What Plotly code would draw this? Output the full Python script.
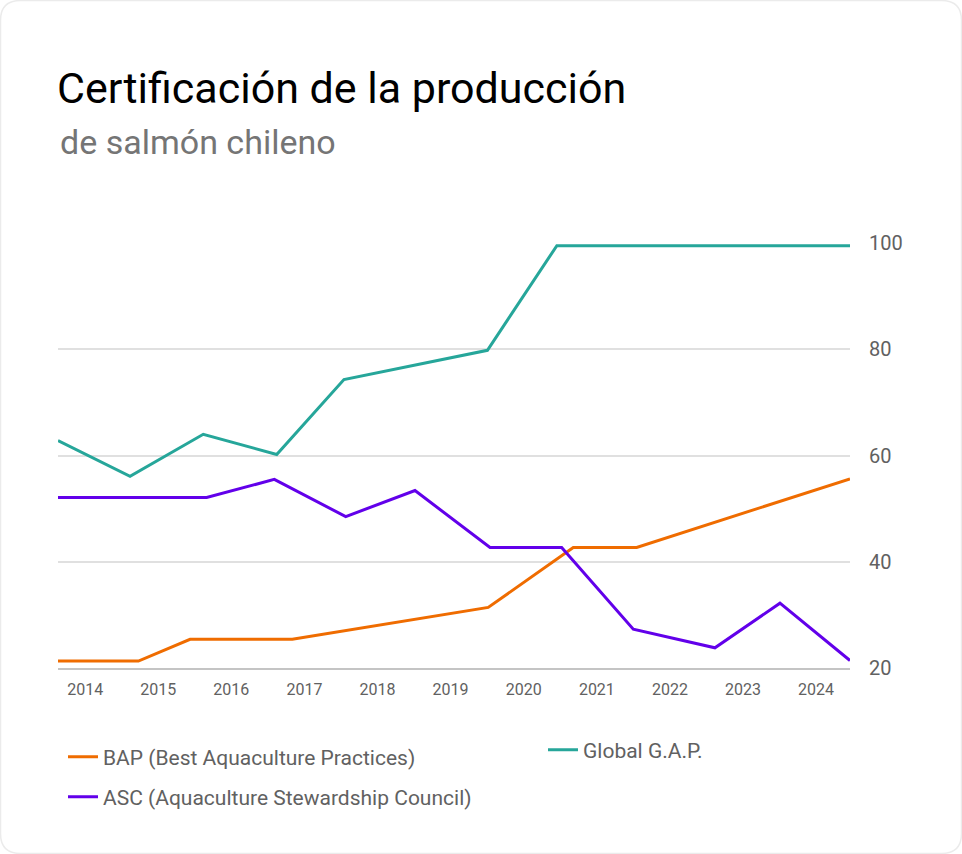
"""
Certificación de la producción de salmón chileno.

Three certification series (BAP, ASC, Global G.A.P.) drawn as lines
over a date axis, y axis on the right.
"""

import plotly.graph_objects as go

# Series data
BAP_DATES = ["2013-08-18", "2014-09-24", "2015-06-09", "2016-11-01",
             "2019-07-08", "2020-09-05", "2021-07-19", "2024-06-19"]
BAP_VALUES = [21.3, 21.3, 25.4, 25.4, 31.4, 42.7, 42.7, 55.6]

ASC_DATES = ["2013-08-18", "2015-08-31", "2016-08-03", "2017-07-26",
             "2018-07-07", "2019-07-17", "2020-07-09", "2021-07-02",
             "2022-08-14", "2023-07-05", "2024-06-19"]
ASC_VALUES = [52.1, 52.1, 55.5, 48.5, 53.4, 42.7, 42.7, 27.3, 23.8, 32.2, 21.4]

GAP_DATES = ["2013-08-18", "2014-08-13", "2015-08-14", "2016-08-15",
             "2017-07-17", "2019-07-04", "2020-06-15", "2024-06-19"]
GAP_VALUES = [62.8, 56.1, 64.0, 60.2, 74.3, 79.8, 99.5, 99.5]

YEAR_TICKS = [f"{y}-01-01" for y in range(2014, 2025)]
YEAR_LABELS = [str(y) for y in range(2014, 2025)]
Y_TICKS = [20, 40, 60, 80, 100]

TITLE = "Certificación de la producción"
SUBTITLE = "de salmón chileno"

# Look
W, H = 962, 854
MARGIN = dict(l=58, r=112, t=243, b=186, autoexpand=False)
FONT = "Roboto, 'Noto Sans', sans-serif"
COLORS = {
    "bap": "#ef6c00",
    "asc": "#6200ea",
    "gap": "#26a69a",
    "text": "#616161",
    "sub": "#757575",
    "grid": "#e0e0e0",
    "axis": "#c4c4c4",
}


def cx(px):
    return px / W


def cy(py):
    return 1 - py / H


fig = go.Figure()

fig.add_trace(go.Scatter(
    x=BAP_DATES, y=BAP_VALUES, mode="lines",
    name="BAP (Best Aquaculture Practices)",
    line=dict(color=COLORS["bap"], width=3),
    legend="legend",
))
fig.add_trace(go.Scatter(
    x=ASC_DATES, y=ASC_VALUES, mode="lines",
    name="ASC (Aquaculture Stewardship Council)",
    line=dict(color=COLORS["asc"], width=3),
    legend="legend2",
))
fig.add_trace(go.Scatter(
    x=GAP_DATES, y=GAP_VALUES, mode="lines",
    name="Global G.A.P.",
    line=dict(color=COLORS["gap"], width=3),
    legend="legend3",
))

legend_common = dict(
    xref="container", yref="container",
    xanchor="left", yanchor="middle",
    font=dict(family=FONT, size=21, color=COLORS["text"]),
    bgcolor="rgba(0,0,0,0)",
    itemwidth=30,
)

fig.update_layout(
    width=W,
    height=H,
    margin=MARGIN,
    paper_bgcolor="white",
    plot_bgcolor="white",
    font=dict(family=FONT, color=COLORS["text"]),
    title=dict(
        text=TITLE,
        font=dict(family=FONT, size=43, color="#000000"),
        xref="container", yref="container",
        x=cx(57), y=cy(88),
        xanchor="left", yanchor="middle",
    ),
    annotations=[dict(
        text=SUBTITLE,
        xref="paper", yref="paper",
        x=0, y=(668 - 142) / 425,
        xanchor="left", yanchor="middle",
        showarrow=False,
        font=dict(family=FONT, size=34, color=COLORS["sub"]),
    )],
    xaxis=dict(
        type="date",
        range=[BAP_DATES[0], BAP_DATES[-1]],
        tickvals=YEAR_TICKS,
        ticktext=YEAR_LABELS,
        showgrid=False,
        showline=True,
        linecolor=COLORS["axis"],
        linewidth=2,
        ticks="",
        tickfont=dict(family=FONT, size=16, color=COLORS["text"]),
        ticklabelstandoff=6,
        zeroline=False,
        fixedrange=True,
    ),
    yaxis=dict(
        side="right",
        range=[20, 100],
        tickvals=Y_TICKS,
        showgrid=True,
        gridcolor=COLORS["grid"],
        gridwidth=2,
        ticks="",
        tickfont=dict(family=FONT, size=20, color=COLORS["text"]),
        ticklabelstandoff=18,
        zeroline=False,
        fixedrange=True,
    ),
    legend=dict(x=cx(63), y=cy(757), **legend_common),
    legend2=dict(x=cx(63), y=cy(797), **legend_common),
    legend3=dict(x=cx(543), y=cy(750), **legend_common),
    showlegend=True,
)

# Faint rounded card outline around the whole figure
pw = W - MARGIN["l"] - MARGIN["r"]
ph = H - MARGIN["t"] - MARGIN["b"]


def px_x(px):
    return (px - MARGIN["l"]) / pw


def px_y(py):
    return (H - MARGIN["b"] - py) / ph


r = 20
pts = [
    ("M", 0.5 + r, 0.5),
    ("L", W - 0.5 - r, 0.5),
    ("Q", W - 0.5, 0.5, W - 0.5, 0.5 + r),
    ("L", W - 0.5, H - 0.5 - r),
    ("Q", W - 0.5, H - 0.5, W - 0.5 - r, H - 0.5),
    ("L", 0.5 + r, H - 0.5),
    ("Q", 0.5, H - 0.5, 0.5, H - 0.5 - r),
    ("L", 0.5, 0.5 + r),
    ("Q", 0.5, 0.5, 0.5 + r, 0.5),
]
path = ""
for p in pts:
    cmd, coords = p[0], p[1:]
    pairs = [f"{px_x(coords[i]):.5f},{px_y(coords[i + 1]):.5f}"
             for i in range(0, len(coords), 2)]
    path += cmd + " ".join(pairs) + " "
path += "Z"

fig.add_shape(
    type="path", path=path,
    xref="paper", yref="paper",
    line=dict(color="#ebebeb", width=1.5),
    layer="below",
)

# the page's default 8px body margin would shift the whole chart
fig.write_html(
    "out.html",
    config={"displayModeBar": False},
    post_script="document.body.style.margin='0';",
)
